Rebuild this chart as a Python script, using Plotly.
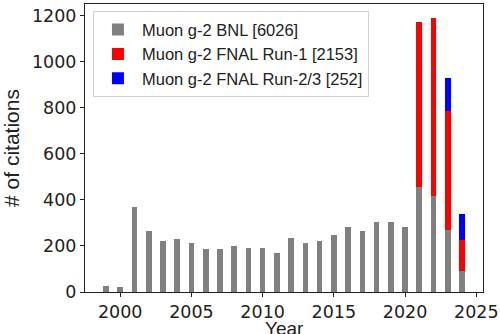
import plotly.graph_objects as go

years = list(range(1999, 2025))
bnl = [26, 22, 371, 265, 222, 229, 214, 186, 186, 200, 190, 190, 168,
       236, 212, 222, 248, 283, 265, 304, 304, 280, 457, 417, 270, 91]
run1 = [0] * 22 + [716, 773, 517, 135]
run23 = [0] * 24 + [142, 112]

labels = ["Muon g-2 BNL [6026]", "Muon g-2 FNAL Run-1 [2153]", "Muon g-2 FNAL Run-2/3 [252]"]
colors = ["#808080", "#ff0000", "#0000ff"]

fig = go.Figure()
for vals, name, col in zip([bnl, run1, run23], labels, colors):
    fig.add_trace(go.Bar(x=years, y=vals, name=name, width=0.4,
                         marker=dict(color=col, line=dict(width=0))))

tickfont = "DejaVu Sans, sans-serif"
textfont = "Liberation Sans, Arial, sans-serif"
fig.update_layout(
    width=500, height=334,
    barmode="stack",
    plot_bgcolor="white", paper_bgcolor="white",
    margin=dict(l=85, r=17, t=4, b=42),
    font=dict(family=tickfont, size=17.5, color="#222"),
    showlegend=True,
    legend=dict(x=0.02, y=0.975, xanchor="left", yanchor="top",
                bgcolor="rgba(255,255,255,0.8)", bordercolor="#d0d0d0", borderwidth=1,
                font=dict(size=16.5, family=textfont, color="#222"),
                itemwidth=38, tracegroupgap=0, traceorder="normal"),
    xaxis=dict(range=[1997.53, 2025.47], tickvals=[2000, 2005, 2010, 2015, 2020, 2025],
               ticks="outside", ticklen=4, tickcolor="#222", showgrid=False, zeroline=False,
               showline=True, linecolor="#222", linewidth=1, mirror=True, automargin=False),
    yaxis=dict(range=[0, 1250], tickvals=[0, 200, 400, 600, 800, 1000, 1200],
               ticks="outside", ticklen=4, tickcolor="#222", showgrid=False, zeroline=False,
               showline=True, linecolor="#222", linewidth=1, mirror=True, automargin=False,
               title=dict(text="# of citations", standoff=8, font=dict(size=21, family=textfont))),
    annotations=[dict(text="Year", xref="paper", yref="paper", x=0.5, y=0,
                      xanchor="center", yanchor="top", yshift=-24, showarrow=False,
                      font=dict(size=19, family=textfont, color="#222"))],
)
fig.write_html("out.html")
